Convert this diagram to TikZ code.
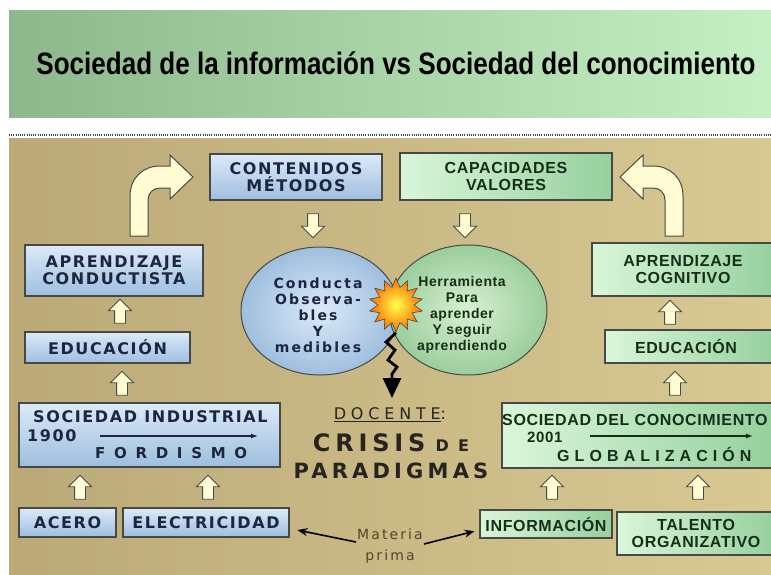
\documentclass[tikz,border=0pt]{standalone}
\usepackage{fontspec}
\usepackage{tikz}
\usetikzlibrary{arrows.meta,shapes.geometric,shapes.arrows}
\setmainfont{DejaVu Sans}
\newfontfamily\titlefont{Liberation Sans}
\newfontfamily\vfont[LetterSpace=10]{DejaVu Sans}
\newfontfamily\afont[LetterSpace=4]{Liberation Sans}
\newfontfamily\circfont[LetterSpace=15]{DejaVu Sans}
\newfontfamily\crisisfont[LetterSpace=20]{DejaVu Sans}
\newfontfamily\widefont[LetterSpace=58]{DejaVu Sans}
\newfontfamily\docfont[LetterSpace=30]{DejaVu Sans}

\definecolor{titleL}{RGB}{140,184,140}
\definecolor{titleR}{RGB}{196,240,196}
\definecolor{tanL}{RGB}{187,170,120}
\definecolor{tanM}{RGB}{228,214,164}
\definecolor{tanR}{RGB}{216,200,146}
\definecolor{blueA}{RGB}{220,234,248}
\definecolor{blueB}{RGB}{158,190,222}
\definecolor{greenA}{RGB}{218,246,218}
\definecolor{greenB}{RGB}{150,208,158}
\definecolor{boxline}{RGB}{70,74,70}
\definecolor{navy}{RGB}{28,38,64}
\definecolor{leaf}{RGB}{22,46,24}
\definecolor{cream}{RGB}{255,251,210}
\definecolor{ink}{RGB}{38,36,30}
\definecolor{mud}{RGB}{80,70,45}

\tikzset{
  bluebox/.style={draw=boxline, line width=1.3pt, top color=blueA, bottom color=blueB,
    text=navy, align=center, inner sep=0pt,
    font=\vfont\bfseries\fontsize{16}{17}\selectfont},
  greenbox/.style={draw=boxline, line width=1.3pt, left color=greenA, right color=greenB,
    text=leaf, align=center, inner sep=0pt,
    font=\afont\bfseries\fontsize{16}{17}\selectfont},
  blockarrow/.style={single arrow, draw=boxline, fill=cream, line width=0.9pt,
    inner sep=5pt, minimum height=24pt, single arrow head extend=6pt}
}

\begin{document}
\begin{tikzpicture}[x=1pt,y=-1pt]
\useasboundingbox (0,0) rectangle (771,574);
\clip (0,0) rectangle (771,574);

% header band
\fill[left color=titleL, right color=titleR] (9,10) rectangle (771,117);
\node (title) at (396,63) {\titlefont\bfseries\fontsize{31}{34}\selectfont
  \scalebox{0.84}[1]{Sociedad de la información vs Sociedad del conocimiento}};
\draw[boxline, line width=1.2pt, dash pattern=on 1pt off 1.2pt] (9,135) -- (771,135);

% panel
\fill[left color=tanL, middle color=tanM, right color=tanR] (9,138) rectangle (771,574);

% the two circles
\node[ellipse, draw=boxline, line width=1pt, minimum width=158pt, minimum height=128pt,
      inner color=blueA, outer color=blueB] (conducta) at (320,311) {};
\node[ellipse, draw=boxline, line width=1pt, minimum width=158pt, minimum height=130pt,
      inner color=greenA, outer color=greenB, fill opacity=0.9] (herram) at (468,310) {};
\node[text=navy, align=center, font=\circfont\bfseries\fontsize{14}{16}\selectfont]
  (conductatxt) at (318,315) {Conducta\\Observa-\\bles\\Y\\medibles};
\node[text=leaf, align=center, font=\afont\bfseries\fontsize{14}{16}\selectfont]
  (herramtxt) at (462,315) {Herramienta\\Para\\aprender\\Y seguir\\aprendiendo};

% clash
\node[star, star points=14, star point ratio=1.5, minimum size=54pt, draw=boxline,
      line width=0.6pt, inner color=yellow!70!white, outer color=orange!85!red] (boom) at (396,305) {};
\coordinate (bolt1) at (386,342);
\coordinate (bolt2) at (395,350);
\coordinate (bolt3) at (388,360);
\coordinate (bolt4) at (397,367);
\coordinate (bolt5) at (392,374);
\coordinate (bolttip) at (392,398);
\draw[line width=2.8pt, line join=miter, -{Triangle[width=18pt,length=20pt]}]
  (boom.south) -- (bolt1) -- (bolt2) -- (bolt3) -- (bolt4) -- (bolt5) -- (bolttip);

% left column
\begin{scope}[every node/.style={bluebox}]
    \node[minimum width=172pt, minimum height=46pt] (contenidos) at (296,177) {CONTENIDOS\\MÉTODOS};
    \node[minimum width=178pt, minimum height=51pt] (conductista) at (114,270.5) {APRENDIZAJE\\CONDUCTISTA};
    \node[minimum width=165pt, minimum height=31pt] (educl) at (107.5,347.5) {EDUCACIÓN};
    \node[minimum width=261pt, minimum height=64pt] (industrial) at (149.5,435) {};
    \node[minimum width=97pt, minimum height=29pt] (acero) at (67.5,522.5) {ACERO};
    \node[minimum width=166pt, minimum height=29pt] (electricidad) at (206,522.5) {ELECTRICIDAD};
\end{scope}

% right column
\begin{scope}[every node/.style={greenbox}]
    \node[minimum width=212pt, minimum height=47pt] (capacidades) at (506,176.5) {CAPACIDADES\\VALORES};
    \node[minimum width=182pt, minimum height=53pt] (cognitivo) at (683,269.5) {APRENDIZAJE\\COGNITIVO};
    \node[minimum width=170pt, minimum height=33pt] (educr) at (690,346.5) {\hspace*{-8pt}EDUCACIÓN};
    \node[minimum width=273pt, minimum height=65pt] (conocimiento) at (638.5,435.5) {};
    \node[minimum width=132pt, minimum height=28pt] (informacion) at (546,524) {INFORMACIÓN};
    \node[minimum width=158pt, minimum height=43pt] (talento) at (696,533.5) {TALENTO\\ORGANIZATIVO};
\end{scope}

% inside the society boxes
\begin{scope}[every node/.style={inner sep=0pt, anchor=west}]
    \node[text=navy, font=\vfont\bfseries\fontsize{16}{17}\selectfont] (indtxt) at (33,417) {SOCIEDAD INDUSTRIAL};
    \node[text=navy, font=\vfont\bfseries\fontsize{16}{17}\selectfont] (y1900) at (27,436) {1900};
    \node[text=navy, font=\widefont\bfseries\fontsize{15}{17}\selectfont] (fordismo) at (95,453) {FORDISMO};
    \node[text=leaf, font=\afont\bfseries\fontsize{16}{17}\selectfont] (conotxt) at (502,420) {SOCIEDAD DEL CONOCIMIENTO};
    \node[text=leaf, font=\afont\bfseries\fontsize{15}{17}\selectfont] (y2001) at (527,437) {2001};
    \node[text=leaf, font=\afont\bfseries\fontsize{16}{17}\selectfont] (globaliz) at (557,454) {G L O B A L I Z A C I Ó N};
\end{scope}
\coordinate (fordA) at (100,436);
\coordinate (fordB) at (258,436);
\coordinate (globA) at (590,436);
\coordinate (globB) at (753,436);
\draw[navy, line width=1.2pt, -{Latex[length=7pt,width=5pt]}] (fordA) -- (fordB);
\draw[leaf, line width=1.2pt, -{Latex[length=7pt,width=5pt]}] (globA) -- (globB);

% block arrows
\begin{scope}[every node/.style={blockarrow}]
    \node[rotate=-90] (downl) at (313,223) {};
    \node[rotate=-90] (downr) at (465,223) {};
    \node[rotate=90] (upl1) at (120,314) {};
    \node[rotate=90] (upl2) at (122,386) {};
    \node[rotate=90] (upacero) at (80,490) {};
    \node[rotate=90] (upelec) at (208,490) {};
    \node[rotate=90] (upr1) at (670,315) {};
    \node[rotate=90] (upr2) at (675,386) {};
    \node[rotate=90] (upinfo) at (552,490) {};
    \node[rotate=90] (uptalento) at (698,490) {};
\end{scope}

% bent arrows
\filldraw[draw=boxline, fill=cream, line width=1pt] (130,236) -- (130,196)
  .. controls (130,178) and (143,166) .. (160,166) -- (170,166) -- (170,155) -- (193,177)
  -- (170,199) -- (170,188) -- (160,188) .. controls (153,188) and (148,193) .. (148,200)
  -- (148,236) -- cycle;
\begin{scope}[shift={(813,0)}, xscale=-1]
\filldraw[draw=boxline, fill=cream, line width=1pt] (130,236) -- (130,196)
  .. controls (130,178) and (143,166) .. (160,166) -- (170,166) -- (170,155) -- (193,177)
  -- (170,199) -- (170,188) -- (160,188) .. controls (153,188) and (148,193) .. (148,200)
  -- (148,236) -- cycle;
\end{scope}

% centre text
\node[text=ink, font=\docfont\fontsize{16}{18}\selectfont] (docente) at (390,415) {\underline{DOCENTE}:};
\node[text=ink] (crisis) at (391,443)
  {{\crisisfont\bfseries\fontsize{24}{26}\selectfont CRISIS}\hspace{10pt}{\widefont\bfseries\fontsize{16}{17}\selectfont DE}};
\node[text=ink, font=\crisisfont\bfseries\fontsize{21}{23}\selectfont] (paradigmas) at (391,471) {PARADIGMAS};

% raw material
\node[text=mud, align=center, font=\circfont\fontsize{14}{21}\selectfont, inner sep=1pt] (materia) at (390,546) {Materia\\prima};
\draw[line width=1.6pt, -{Stealth[length=10pt,width=8pt]}, shorten >=8pt]
  ([yshift=4pt]materia.west) -- ([yshift=-6pt]electricidad.east);
\draw[line width=1.6pt, -{Stealth[length=10pt,width=8pt]}, shorten >=5pt]
  ([yshift=2pt]materia.east) -- ([yshift=-6pt]informacion.west);
\end{tikzpicture}
\end{document}
